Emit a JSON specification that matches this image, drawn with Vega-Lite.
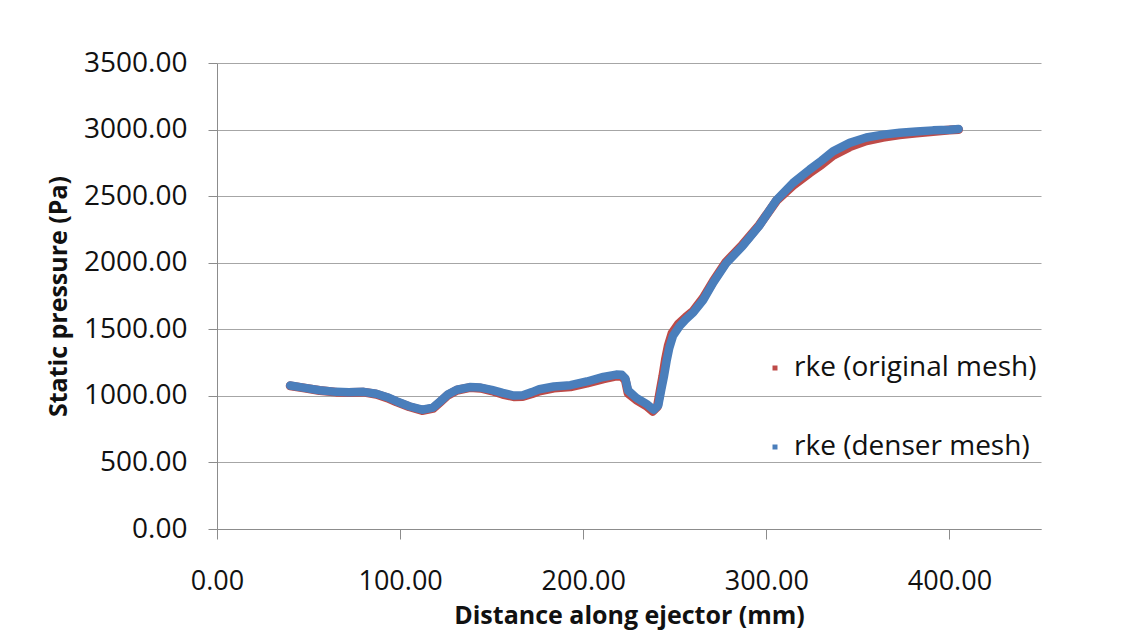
{
  "$schema": "https://vega.github.io/schema/vega-lite/v6.json",
  "width": 824,
  "height": 466,
  "autosize": "none",
  "padding": {"left": 217, "top": 63, "right": 94, "bottom": 102},
  "background": "white",
  "config": {
    "view": {"stroke": null},
    "font": "Open Sans",
    "axis": {"labelFont": "Open Sans", "titleFont": "Open Sans"}
  },
  "datasets": {
    "orig": [
      {"x": 40, "y": 1075, "s": "rke (original mesh)"},
      {"x": 48, "y": 1058, "s": "rke (original mesh)"},
      {"x": 56, "y": 1040, "s": "rke (original mesh)"},
      {"x": 65, "y": 1028, "s": "rke (original mesh)"},
      {"x": 72, "y": 1026, "s": "rke (original mesh)"},
      {"x": 80, "y": 1028, "s": "rke (original mesh)"},
      {"x": 87, "y": 1012, "s": "rke (original mesh)"},
      {"x": 93, "y": 985, "s": "rke (original mesh)"},
      {"x": 98, "y": 955, "s": "rke (original mesh)"},
      {"x": 105, "y": 918, "s": "rke (original mesh)"},
      {"x": 112, "y": 890, "s": "rke (original mesh)"},
      {"x": 118, "y": 906, "s": "rke (original mesh)"},
      {"x": 122, "y": 955, "s": "rke (original mesh)"},
      {"x": 126, "y": 1005, "s": "rke (original mesh)"},
      {"x": 131, "y": 1042, "s": "rke (original mesh)"},
      {"x": 138, "y": 1062, "s": "rke (original mesh)"},
      {"x": 144, "y": 1058, "s": "rke (original mesh)"},
      {"x": 150, "y": 1038, "s": "rke (original mesh)"},
      {"x": 156, "y": 1012, "s": "rke (original mesh)"},
      {"x": 162, "y": 994, "s": "rke (original mesh)"},
      {"x": 167, "y": 996, "s": "rke (original mesh)"},
      {"x": 172, "y": 1016, "s": "rke (original mesh)"},
      {"x": 176, "y": 1036, "s": "rke (original mesh)"},
      {"x": 184, "y": 1058, "s": "rke (original mesh)"},
      {"x": 193, "y": 1068, "s": "rke (original mesh)"},
      {"x": 202, "y": 1095, "s": "rke (original mesh)"},
      {"x": 211, "y": 1128, "s": "rke (original mesh)"},
      {"x": 218, "y": 1148, "s": "rke (original mesh)"},
      {"x": 221, "y": 1148, "s": "rke (original mesh)"},
      {"x": 223, "y": 1118, "s": "rke (original mesh)"},
      {"x": 224.5, "y": 1020, "s": "rke (original mesh)"},
      {"x": 229, "y": 970, "s": "rke (original mesh)"},
      {"x": 234.5, "y": 925, "s": "rke (original mesh)"},
      {"x": 238, "y": 885, "s": "rke (original mesh)"},
      {"x": 240.5, "y": 920, "s": "rke (original mesh)"},
      {"x": 242.3, "y": 1060, "s": "rke (original mesh)"},
      {"x": 243.5, "y": 1150, "s": "rke (original mesh)"},
      {"x": 245, "y": 1280, "s": "rke (original mesh)"},
      {"x": 246.5, "y": 1380, "s": "rke (original mesh)"},
      {"x": 248.5, "y": 1470, "s": "rke (original mesh)"},
      {"x": 252, "y": 1540, "s": "rke (original mesh)"},
      {"x": 256, "y": 1590, "s": "rke (original mesh)"},
      {"x": 260, "y": 1635, "s": "rke (original mesh)"},
      {"x": 265.5, "y": 1735, "s": "rke (original mesh)"},
      {"x": 271, "y": 1860, "s": "rke (original mesh)"},
      {"x": 278, "y": 2005, "s": "rke (original mesh)"},
      {"x": 287, "y": 2135, "s": "rke (original mesh)"},
      {"x": 296, "y": 2280, "s": "rke (original mesh)"},
      {"x": 305.5, "y": 2465, "s": "rke (original mesh)"},
      {"x": 314.6, "y": 2580, "s": "rke (original mesh)"},
      {"x": 323.7, "y": 2675, "s": "rke (original mesh)"},
      {"x": 330, "y": 2735, "s": "rke (original mesh)"},
      {"x": 336.4, "y": 2806, "s": "rke (original mesh)"},
      {"x": 345.5, "y": 2870, "s": "rke (original mesh)"},
      {"x": 354.6, "y": 2915, "s": "rke (original mesh)"},
      {"x": 363.7, "y": 2942, "s": "rke (original mesh)"},
      {"x": 372.8, "y": 2960, "s": "rke (original mesh)"},
      {"x": 382, "y": 2974, "s": "rke (original mesh)"},
      {"x": 391, "y": 2986, "s": "rke (original mesh)"},
      {"x": 400, "y": 2996, "s": "rke (original mesh)"},
      {"x": 405, "y": 3000, "s": "rke (original mesh)"}
    ],
    "dense": [
      {"x": 40, "y": 1078, "s": "rke (denser mesh)"},
      {"x": 48, "y": 1060, "s": "rke (denser mesh)"},
      {"x": 56, "y": 1042, "s": "rke (denser mesh)"},
      {"x": 65, "y": 1030, "s": "rke (denser mesh)"},
      {"x": 72, "y": 1028, "s": "rke (denser mesh)"},
      {"x": 80, "y": 1030, "s": "rke (denser mesh)"},
      {"x": 87, "y": 1016, "s": "rke (denser mesh)"},
      {"x": 93, "y": 990, "s": "rke (denser mesh)"},
      {"x": 98, "y": 960, "s": "rke (denser mesh)"},
      {"x": 105, "y": 922, "s": "rke (denser mesh)"},
      {"x": 112, "y": 896, "s": "rke (denser mesh)"},
      {"x": 118, "y": 912, "s": "rke (denser mesh)"},
      {"x": 122, "y": 960, "s": "rke (denser mesh)"},
      {"x": 126, "y": 1010, "s": "rke (denser mesh)"},
      {"x": 131, "y": 1046, "s": "rke (denser mesh)"},
      {"x": 138, "y": 1066, "s": "rke (denser mesh)"},
      {"x": 144, "y": 1062, "s": "rke (denser mesh)"},
      {"x": 150, "y": 1045, "s": "rke (denser mesh)"},
      {"x": 156, "y": 1022, "s": "rke (denser mesh)"},
      {"x": 162, "y": 1002, "s": "rke (denser mesh)"},
      {"x": 167, "y": 1004, "s": "rke (denser mesh)"},
      {"x": 172, "y": 1028, "s": "rke (denser mesh)"},
      {"x": 176, "y": 1050, "s": "rke (denser mesh)"},
      {"x": 184, "y": 1070, "s": "rke (denser mesh)"},
      {"x": 193, "y": 1080, "s": "rke (denser mesh)"},
      {"x": 202, "y": 1108, "s": "rke (denser mesh)"},
      {"x": 211, "y": 1142, "s": "rke (denser mesh)"},
      {"x": 218, "y": 1160, "s": "rke (denser mesh)"},
      {"x": 221, "y": 1158, "s": "rke (denser mesh)"},
      {"x": 223, "y": 1130, "s": "rke (denser mesh)"},
      {"x": 224.5, "y": 1040, "s": "rke (denser mesh)"},
      {"x": 229, "y": 985, "s": "rke (denser mesh)"},
      {"x": 234.5, "y": 940, "s": "rke (denser mesh)"},
      {"x": 238.5, "y": 896, "s": "rke (denser mesh)"},
      {"x": 241, "y": 930, "s": "rke (denser mesh)"},
      {"x": 242.8, "y": 1060, "s": "rke (denser mesh)"},
      {"x": 244, "y": 1140, "s": "rke (denser mesh)"},
      {"x": 245.5, "y": 1260, "s": "rke (denser mesh)"},
      {"x": 247, "y": 1360, "s": "rke (denser mesh)"},
      {"x": 249, "y": 1450, "s": "rke (denser mesh)"},
      {"x": 252.7, "y": 1525, "s": "rke (denser mesh)"},
      {"x": 256, "y": 1575, "s": "rke (denser mesh)"},
      {"x": 260, "y": 1625, "s": "rke (denser mesh)"},
      {"x": 265.5, "y": 1720, "s": "rke (denser mesh)"},
      {"x": 271, "y": 1850, "s": "rke (denser mesh)"},
      {"x": 278, "y": 1995, "s": "rke (denser mesh)"},
      {"x": 287, "y": 2125, "s": "rke (denser mesh)"},
      {"x": 296, "y": 2275, "s": "rke (denser mesh)"},
      {"x": 305.5, "y": 2470, "s": "rke (denser mesh)"},
      {"x": 314.6, "y": 2600, "s": "rke (denser mesh)"},
      {"x": 323.7, "y": 2700, "s": "rke (denser mesh)"},
      {"x": 330, "y": 2765, "s": "rke (denser mesh)"},
      {"x": 336.4, "y": 2836, "s": "rke (denser mesh)"},
      {"x": 345.5, "y": 2900, "s": "rke (denser mesh)"},
      {"x": 354.6, "y": 2940, "s": "rke (denser mesh)"},
      {"x": 363.7, "y": 2962, "s": "rke (denser mesh)"},
      {"x": 372.8, "y": 2976, "s": "rke (denser mesh)"},
      {"x": 382, "y": 2986, "s": "rke (denser mesh)"},
      {"x": 391, "y": 2994, "s": "rke (denser mesh)"},
      {"x": 400, "y": 2999, "s": "rke (denser mesh)"},
      {"x": 405, "y": 3004, "s": "rke (denser mesh)"}
    ]
  },
  "encoding": {
    "x": {
      "field": "x", "type": "quantitative",
      "scale": {"domain": [0, 450], "nice": false, "zero": false},
      "axis": {
        "title": "Distance along ejector (mm)",
        "values": [0, 100, 200, 300, 400],
        "format": ".2f",
        "grid": false,
        "domainColor": "#8c8c8c",
        "tickColor": "#8c8c8c",
        "tickSize": 10,
        "labelFontSize": 27,
        "labelColor": "#111111",
        "labelPadding": 29,
        "labelFlush": false,
        "titleFontSize": 25,
        "titleFontWeight": "bold",
        "titleColor": "#111111",
        "titlePadding": 9
      }
    },
    "y": {
      "field": "y", "type": "quantitative",
      "scale": {"domain": [0, 3500], "nice": false},
      "axis": {
        "title": "Static pressure (Pa)",
        "values": [0, 500, 1000, 1500, 2000, 2500, 3000, 3500],
        "format": ".2f",
        "grid": true,
        "gridColor": "#a6a6a6",
        "domainColor": "#8c8c8c",
        "tickColor": "#8c8c8c",
        "tickSize": 9,
        "labelFontSize": 28,
        "labelColor": "#111111",
        "labelPadding": 21,
        "labelFlush": false,
        "titleFontSize": 25,
        "titleFontWeight": "bold",
        "titleColor": "#111111",
        "titlePadding": 12
      }
    },
    "color": {
      "field": "s", "type": "nominal",
      "scale": {"domain": ["rke (original mesh)", "rke (denser mesh)"], "range": ["#be4b48", "#4a7ebb"]},
      "legend": {
        "title": null,
        "orient": "none",
        "legendX": 544,
        "legendY": 291,
        "symbolType": "square",
        "symbolSize": 25,
        "symbolStrokeWidth": 0,
        "labelFontSize": 28,
        "labelColor": "#111111",
        "labelOffset": 5,
        "rowPadding": 51,
        "labelLimit": 400,
        "encode": {
          "symbols": {
            "update": {
              "shape": {"value": "square"},
              "size": {"value": 25},
              "fill": {"field": "value", "scale": "color"},
              "strokeWidth": {"value": 0}
            }
          }
        }
      }
    }
  },
  "layer": [
    {
      "data": {"name": "orig"},
      "mark": {"type": "line", "strokeWidth": 9, "strokeCap": "round", "strokeJoin": "round"}
    },
    {
      "data": {"name": "dense"},
      "mark": {"type": "line", "strokeWidth": 8.5, "strokeCap": "round", "strokeJoin": "round"}
    }
  ]
}
